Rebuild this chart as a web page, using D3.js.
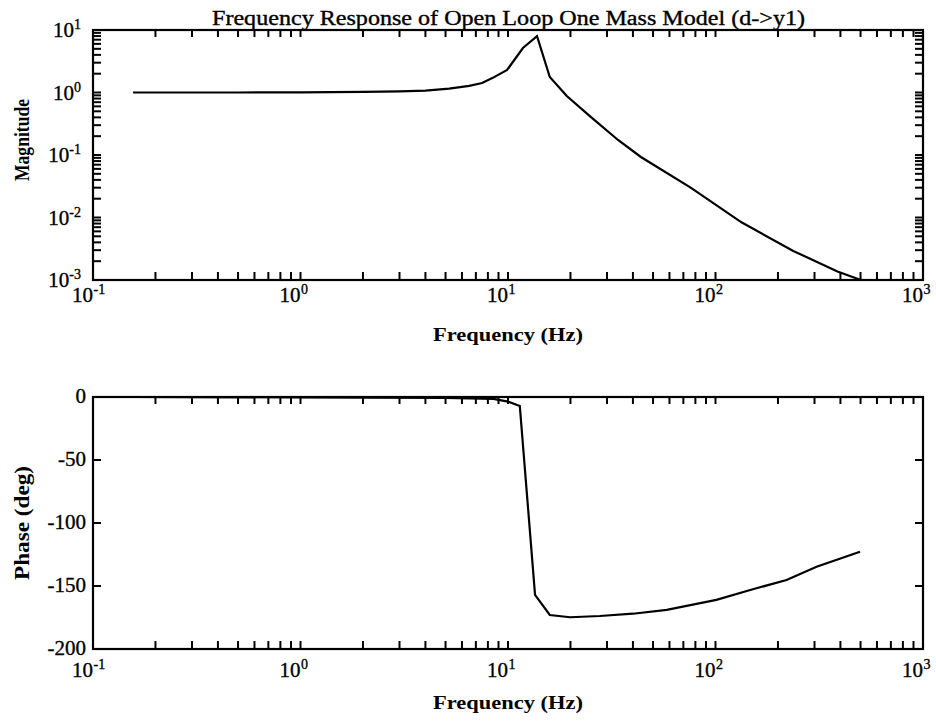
<!DOCTYPE html>
<html>
<head>
<meta charset="utf-8">
<script src="https://cdn.jsdelivr.net/npm/d3@7"></script>
<style>
  html, body { margin: 0; padding: 0; background: #fff; }
  svg { display: block; }
  text { font-family: "Liberation Serif", "Times New Roman", serif; fill: #000; }
  .heavy { stroke: #000; stroke-width: 0.35px; }
</style>
</head>
<body>
<svg id="chart" width="936" height="722"></svg>
<script>
// Magnitude response |d -> y1| (frequency in Hz, magnitude)
const magFreq   = [0.156, 0.5, 1.0, 2.0, 3.0, 4.0, 5.2, 6.5, 7.5, 8.4, 9.9, 11.8, 13.8, 15.9, 19.2, 24.8, 33.9, 43.7, 75.9, 134, 237, 387, 502];
const magValues = [1.0, 1.0, 1.005, 1.02, 1.04, 1.07, 1.15, 1.28, 1.42, 1.70, 2.29, 5.15, 8.0, 1.77, 0.88, 0.42, 0.174, 0.093, 0.0301, 0.0083, 0.00292, 0.00137, 0.001];

// Phase response (frequency in Hz, degrees)
const phaseFreq   = [0.156, 1.0, 5.0, 8.5, 10.0, 11.4, 13.5, 15.9, 19.9, 27.7, 40, 58.2, 101, 147, 220, 307, 497];
const phaseValues = [0, -0.3, -0.8, -1.5, -3.7, -7.1, -157, -173, -174.8, -173.8, -172, -169, -161, -153.2, -145.2, -134.7, -122.8];

// Axis ticks
const decadeTicks = [0.1, 1, 10, 100, 1000];
const decadeExps  = ["-1", "0", "1", "2", "3"];
const magTicks    = [10, 1, 0.1, 0.01, 0.001];
const magExps     = ["1", "0", "-1", "-2", "-3"];
const phaseTicks  = [0, -50, -100, -150, -200];
const phaseTickLabels = ["0", "-50", "-100", "-150", "-200"];

const titleText  = "Frequency Response of Open Loop One Mass Model (d->y1)";
const freqLabel  = "Frequency (Hz)";
const magLabel   = "Magnitude";
const phaseLabel = "Phase (deg)";

const svg = d3.select("#chart");
svg.append("rect").attr("width", 936).attr("height", 722).attr("fill", "#fff");

const left = 93, right = 923;
const magBox   = { top: 30,  bottom: 280 };
const phaseBox = { top: 397, bottom: 649 };

const x = d3.scaleLog().domain([0.1, 1000]).range([left, right]);
const yMag = d3.scaleLog().domain([0.001, 10]).range([magBox.bottom, magBox.top]);
const yPhase = d3.scaleLinear().domain([-200, 0]).range([phaseBox.bottom, phaseBox.top]);

// every 1..9 multiple within a span of decades
function logTicks(lo, hi) {
  const out = [];
  for (let e = lo; e < hi; e++) {
    for (let m = 1; m <= 9; m++) out.push(m * Math.pow(10, e));
  }
  out.push(Math.pow(10, hi));
  return out;
}
const xMinor = logTicks(-1, 3);
const yMagMinor = logTicks(-3, 1);

const TICK = 8;

function drawPanel(box, yScale, yTickVals) {
  const g = svg.append("g").attr("stroke", "#000").attr("stroke-width", 2);
  // inward ticks along the bottom and top edges
  g.selectAll("line.xb").data(xMinor).join("line").attr("class", "xb")
    .attr("x1", d => x(d)).attr("x2", d => x(d))
    .attr("y1", box.bottom).attr("y2", box.bottom - TICK);
  g.selectAll("line.xt").data(xMinor).join("line").attr("class", "xt")
    .attr("x1", d => x(d)).attr("x2", d => x(d))
    .attr("y1", box.top).attr("y2", box.top + TICK - 1);
  // inward ticks along the left and right edges
  g.selectAll("line.yl").data(yTickVals).join("line").attr("class", "yl")
    .attr("x1", left).attr("x2", left + TICK)
    .attr("y1", d => yScale(d)).attr("y2", d => yScale(d));
  g.selectAll("line.yr").data(yTickVals).join("line").attr("class", "yr")
    .attr("x1", right).attr("x2", right - TICK)
    .attr("y1", d => yScale(d)).attr("y2", d => yScale(d));
  // frame
  svg.append("rect")
    .attr("x", left).attr("y", box.top)
    .attr("width", right - left).attr("height", box.bottom - box.top)
    .attr("fill", "none").attr("stroke", "#000").attr("stroke-width", 2.2);
}

function decadeLabels(baseline) {
  const g = svg.append("g").attr("class", "heavy");
  decadeTicks.forEach((v, i) => {
    const px = x(v);
    g.append("text").attr("x", px).attr("y", baseline)
      .attr("text-anchor", "end").attr("font-size", 21).text("10");
    g.append("text").attr("x", px + 0.5).attr("y", baseline - 8)
      .attr("text-anchor", "start").attr("font-size", 14).text(decadeExps[i]);
  });
}

// ---- Magnitude panel ----
drawPanel(magBox, yMag, yMagMinor);
decadeLabels(302);

const magAxisLabels = svg.append("g").attr("class", "heavy");
magTicks.forEach((v, i) => {
  const t = magAxisLabels.append("text")
    .attr("x", left - 12).attr("y", yMag(v) + 7)
    .attr("text-anchor", "end").attr("font-size", 21);
  t.append("tspan").text("10");
  t.append("tspan").attr("dy", -8).attr("font-size", 14).text(magExps[i]);
});

svg.append("path")
  .datum(magFreq.map((f, i) => [f, magValues[i]]))
  .attr("fill", "none").attr("stroke", "#000").attr("stroke-width", 2.2)
  .attr("d", d3.line().x(d => x(d[0])).y(d => yMag(d[1])));

svg.append("text").attr("class", "heavy")
  .attr("x", 508.5).attr("y", 25)
  .attr("text-anchor", "middle").attr("font-size", 20)
  .attr("textLength", 593).attr("lengthAdjust", "spacingAndGlyphs")
  .text(titleText);

svg.append("text")
  .attr("x", 508).attr("y", 341)
  .attr("text-anchor", "middle").attr("font-size", 19).attr("font-weight", "bold")
  .attr("textLength", 150).attr("lengthAdjust", "spacingAndGlyphs")
  .text(freqLabel);

svg.append("text")
  .attr("transform", "translate(29,140) rotate(-90)")
  .attr("text-anchor", "middle").attr("font-size", 21).attr("font-weight", "bold")
  .attr("textLength", 82).attr("lengthAdjust", "spacingAndGlyphs")
  .text(magLabel);

// ---- Phase panel ----
drawPanel(phaseBox, yPhase, phaseTicks);
decadeLabels(677);

svg.append("g").attr("class", "heavy").selectAll("text")
  .data(phaseTicks)
  .join("text")
  .attr("x", left - 7).attr("y", d => yPhase(d) + 6)
  .attr("text-anchor", "end").attr("font-size", 21)
  .text((d, i) => phaseTickLabels[i]);

svg.append("path")
  .datum(phaseFreq.map((f, i) => [f, phaseValues[i]]))
  .attr("fill", "none").attr("stroke", "#000").attr("stroke-width", 2.2)
  .attr("d", d3.line().x(d => x(d[0])).y(d => yPhase(d[1])));

svg.append("text")
  .attr("x", 508).attr("y", 709)
  .attr("text-anchor", "middle").attr("font-size", 19).attr("font-weight", "bold")
  .attr("textLength", 150).attr("lengthAdjust", "spacingAndGlyphs")
  .text(freqLabel);

svg.append("text")
  .attr("transform", "translate(29,523) rotate(-90)")
  .attr("text-anchor", "middle").attr("font-size", 20).attr("font-weight", "bold")
  .attr("textLength", 114).attr("lengthAdjust", "spacingAndGlyphs")
  .text(phaseLabel);
</script>
</body>
</html>
